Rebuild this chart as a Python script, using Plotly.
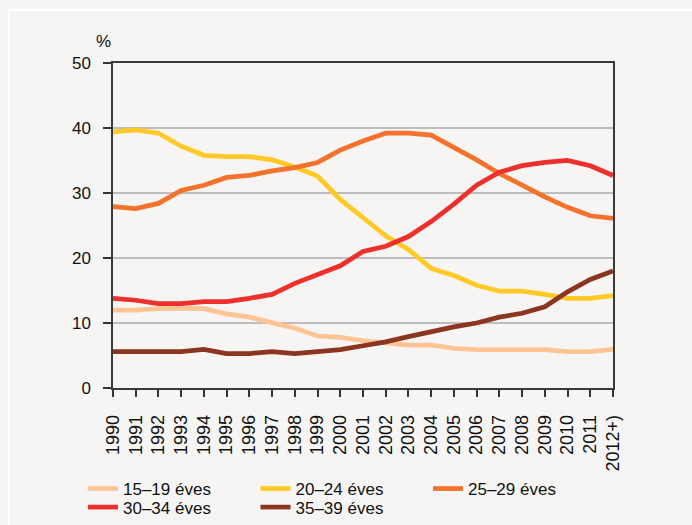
import plotly.graph_objects as go

years = ["1990", "1991", "1992", "1993", "1994", "1995", "1996", "1997", "1998", "1999",
         "2000", "2001", "2002", "2003", "2004", "2005", "2006", "2007", "2008", "2009",
         "2010", "2011", "2012+)"]

s15_19 = [12.0, 12.0, 12.2, 12.3, 12.2, 11.4, 10.9, 10.0, 9.2, 8.0,
          7.8, 7.3, 6.9, 6.6, 6.6, 6.1, 5.9, 5.9, 5.9, 5.9,
          5.6, 5.6, 5.95]
s20_24 = [39.4, 39.7, 39.2, 37.2, 35.8, 35.6, 35.6, 35.1, 34.0, 32.6,
          29.0, 26.1, 23.4, 21.3, 18.4, 17.3, 15.8, 14.9, 14.9, 14.4,
          13.8, 13.8, 14.2]
s25_29 = [27.9, 27.6, 28.4, 30.4, 31.2, 32.4, 32.7, 33.4, 33.9, 34.7,
          36.6, 38.0, 39.2, 39.2, 38.9, 37.1, 35.1, 33.0, 31.1, 29.4,
          27.8, 26.5, 26.1]
s30_34 = [13.8, 13.5, 13.0, 13.0, 13.3, 13.3, 13.8, 14.4, 16.1, 17.5,
          18.8, 21.0, 21.8, 23.3, 25.6, 28.3, 31.2, 33.2, 34.2, 34.7,
          35.0, 34.2, 32.7]
s35_39 = [5.6, 5.6, 5.6, 5.6, 5.95, 5.3, 5.3, 5.6, 5.3, 5.6,
          5.9, 6.5, 7.1, 7.9, 8.7, 9.4, 10.0, 10.9, 11.5, 12.5,
          14.8, 16.7, 18.0]

names = ["15–19 éves", "20–24 éves", "25–29 éves", "30–34 éves", "35–39 éves"]
series = [s15_19, s20_24, s25_29, s30_34, s35_39]
colors = ["#fdc593", "#ffc926", "#f4722c", "#ee302d", "#8c3520"]
legend_rows = ["legend", "legend", "legend", "legend2", "legend2"]

W, H = 692, 525
L, R, T, B = 113, 79, 63, 137
pw, ph = W - L - R, H - T - B

def px_x(p):
    return (p - L) / pw

def px_y(p):
    return (H - B - p) / ph

fig = go.Figure()
for name, vals, col, lg in zip(names, series, colors, legend_rows):
    fig.add_trace(go.Scatter(
        x=list(range(len(years))), y=vals, name=name, mode="lines",
        line=dict(color=col, width=4.75), hoverinfo="skip", legend=lg))

narrow = "Liberation Sans Narrow, Arial Narrow, Liberation Sans, Arial"
regular = "Liberation Sans, Arial"
legend_common = dict(
    orientation="h", xanchor="left", yanchor="middle",
    entrywidth=127.5, entrywidthmode="pixels", traceorder="normal",
    font=dict(family=regular, size=17, color="#111111"),
    bgcolor="rgba(0,0,0,0)", itemwidth=30, borderwidth=0,
)

fig.update_layout(
    width=W, height=H,
    margin=dict(l=L, r=R, t=T, b=B, pad=0, autoexpand=False),
    paper_bgcolor="#f6f5f3", plot_bgcolor="#f6f5f3",
    font=dict(family=regular, size=16, color="#111111"),
    showlegend=True,
    legend=dict(x=px_x(83), y=px_y(489), **legend_common),
    legend2=dict(x=px_x(83), y=px_y(507.5), **legend_common),
    xaxis=dict(
        range=[0, len(years) - 1], tickmode="array",
        tickvals=list(range(len(years))), ticktext=years,
        tickangle=-90, tickfont=dict(family=narrow, size=18, color="#111111"),
        ticks="outside", ticklen=7, tickcolor="#333333", tickwidth=1.5,
        ticklabelstandoff=11,
        showline=True, linecolor="#3a3a3a", linewidth=1.5,
        mirror=True, showgrid=False, zeroline=False, automargin=False,
    ),
    yaxis=dict(
        range=[0, 50], tickmode="array", tickvals=[0, 10, 20, 30, 40, 50],
        tickfont=dict(family=regular, size=17, color="#111111"),
        ticks="outside", ticklen=8, tickcolor="#333333", tickwidth=1.5,
        ticklabelstandoff=9,
        showline=True, linecolor="#3a3a3a", linewidth=1.5,
        mirror=True, showgrid=True, gridcolor="#bdbdbd", gridwidth=1.5,
        zeroline=False, automargin=False,
    ),
    shapes=[dict(
        type="rect", xref="paper", yref="paper", layer="below",
        x0=px_x(9), x1=px_x(720), y0=px_y(560), y1=px_y(10),
        line=dict(color="#ffffff", width=2), fillcolor="rgba(0,0,0,0)")],
    annotations=[dict(
        text="%", xref="paper", yref="paper", x=px_x(103), y=px_y(41.5),
        xanchor="center", yanchor="middle", showarrow=False,
        font=dict(family=regular, size=17, color="#111111"))],
)

fig.write_html("out.html", config={"displayModeBar": False},
               post_script="document.body.style.margin='0';")
